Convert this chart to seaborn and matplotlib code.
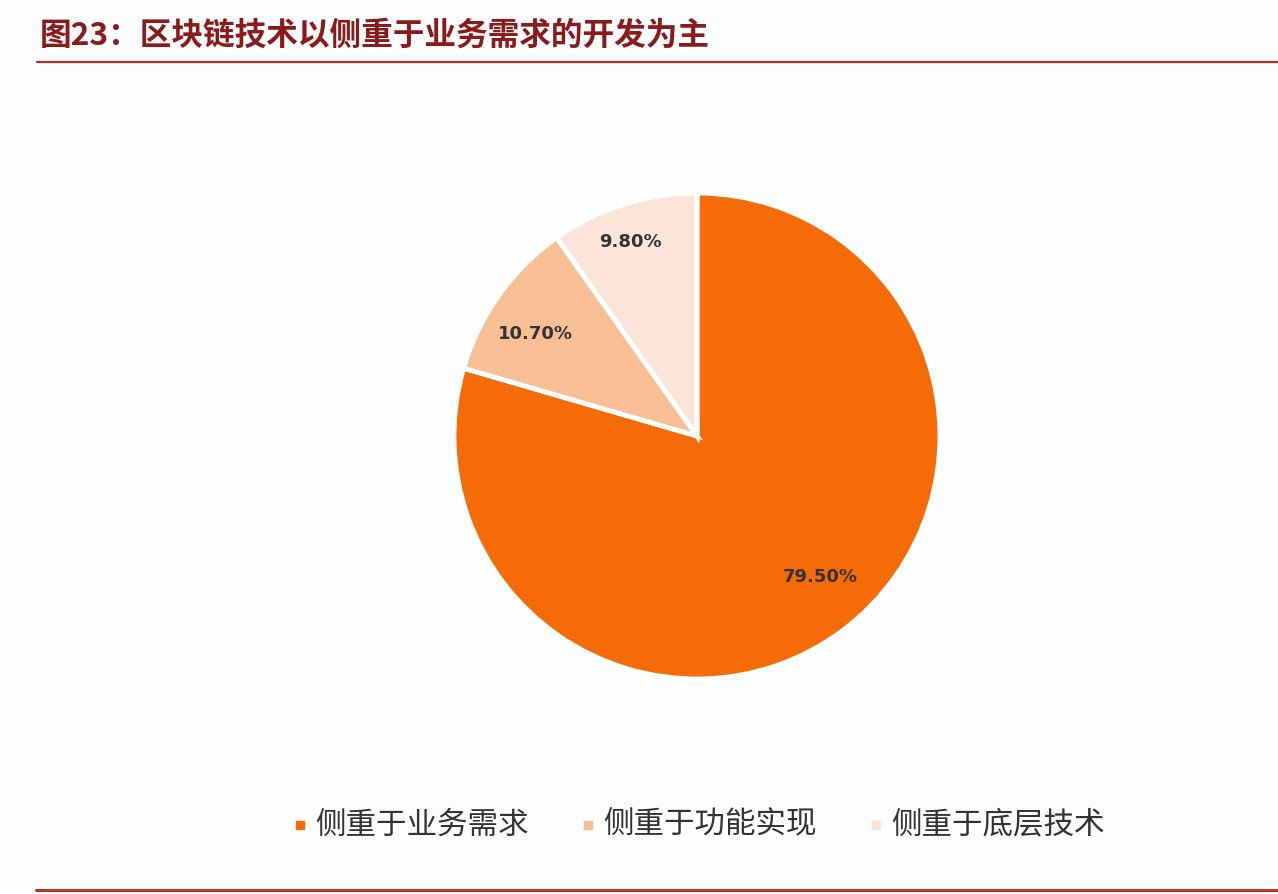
import matplotlib
matplotlib.use("Agg")
import matplotlib.pyplot as plt
import seaborn as sns
from matplotlib.lines import Line2D

title = "图23：区块链技术以侧重于业务需求的开发为主"
categories = ["侧重于业务需求", "侧重于功能实现", "侧重于底层技术"]
values = [79.5, 10.7, 9.8]
colors = ["#F46B08", "#F8BE94", "#FBE5D8"]

sns.set_theme(style="white")
plt.rcParams['font.family'] = ['Noto Sans CJK SC', 'DejaVu Sans']

W, H = 1278, 894
bg = "#FDFCFE"
fig = plt.figure(figsize=(W / 100, H / 100), dpi=100, facecolor=bg)

# title and rules
fig.text(40 / W, 1 - 36 / H, title, fontsize=22.8, fontweight="bold",
         color="#8B1A1A", va="center", ha="left")
fig.add_artist(Line2D([37 / W, 1.0], [1 - 62 / H, 1 - 62 / H],
                      color="#B0302A", linewidth=1.6, transform=fig.transFigure))
fig.add_artist(Line2D([36 / W, 1.0], [1 - 890 / H, 1 - 890 / H],
                      color="#C0302A", linewidth=2.2, transform=fig.transFigure))

# pie axes
cx, cy, r = 697, 436, 243
ax = fig.add_axes([(cx - r) / W, 1 - (cy + r) / H, 2 * r / W, 2 * r / H])
ax.set_facecolor(bg)
wedges, texts, autotexts = ax.pie(
    values, colors=colors, startangle=90, counterclock=False,
    autopct=lambda p: f"{p:.2f}%", pctdistance=0.78, radius=1.0,
    wedgeprops=dict(edgecolor="white", linewidth=3.5),
    textprops=dict(fontsize=13, color="#333333", fontweight="bold",
                   family="DejaVu Sans"))
autotexts[0].set_position((0.506, -0.580))
autotexts[1].set_position((-0.663, 0.420))
autotexts[2].set_position((-0.272, 0.798))
ax.set_xlim(-1, 1)
ax.set_ylim(-1, 1)
ax.set_aspect("equal")
ax.axis("off")

# legend
ly = 1 - 825 / H
for x_marker, lab, col in zip([300, 588, 876], categories, colors):
    fig.add_artist(Line2D([x_marker / W], [ly], marker="s", markersize=6,
                          color=col, linestyle="none", transform=fig.transFigure))
    fig.text((x_marker + 15) / W, ly, lab, fontsize=22, color="#333333",
             va="center", ha="left", fontweight="light")

fig.savefig("out.png", dpi=100, facecolor=bg)
